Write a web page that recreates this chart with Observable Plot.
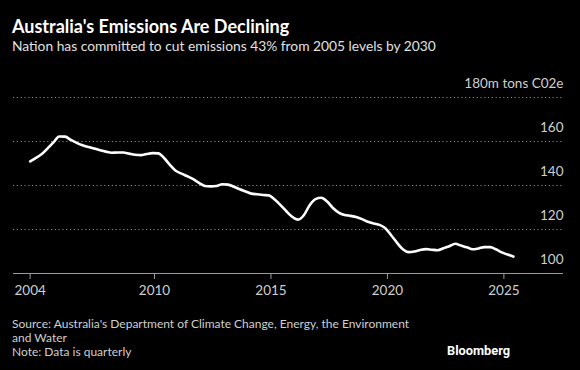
<!DOCTYPE html>
<html>
<head>
<meta charset="utf-8">
<script src="https://cdn.jsdelivr.net/npm/d3@7"></script>
<script src="https://cdn.jsdelivr.net/npm/@observablehq/plot@0.6"></script>
<style>
  html, body { margin: 0; padding: 0; background: #000; }
  #chart { position: relative; width: 580px; height: 370px; background: #000; overflow: hidden; font-family: "Lato", "Liberation Sans", sans-serif; }
  #title { position: absolute; left: 12px; top: 15px; color: #fff; font-weight: 700; font-size: 18px; white-space: nowrap; }
  #subtitle { position: absolute; left: 12px; top: 37px; color: #e0e0e0; font-size: 13.8px; white-space: nowrap; }
  #plot { position: absolute; left: 0; top: 60px; }
  #footer { position: absolute; left: 12px; top: 317px; color: #cfcfcf; font-size: 12px; line-height: 14px; }
  #brand { position: absolute; left: 447px; top: 343px; color: #fff; font-weight: 700; font-size: 12.8px; font-family: "Roboto", "Liberation Sans", sans-serif; }
</style>
</head>
<body>
<div id="chart">
  <div id="title">Australia's Emissions Are Declining</div>
  <div id="subtitle">Nation has committed to cut emissions 43% from 2005 levels by 2030</div>
  <div id="plot"></div>
  <div id="footer">Source: Australia's Department of Climate Change, Energy, the Environment<br>and Water<br>Note: Data is quarterly</div>
  <div id="brand">Bloomberg</div>
</div>
<script>
// Quarterly emissions, million tons CO2e (first point: Sept 2004 quarter)
const firstQuarterYear = 2004.66;
const emissions = [
  151.0, 152.6, 154.3, 156.9, 159.6, 162.3, 162.2, 160.7, 159.4, 158.3,
  157.5, 156.8, 156.0, 155.4, 154.9, 155.0, 155.0, 154.5, 154.0, 153.8,
  154.3, 154.7, 154.6, 152.5, 149.4, 146.7, 145.4, 144.2, 142.9, 141.2,
  139.8, 139.6, 139.8, 140.6, 140.4, 139.4, 138.3, 137.3, 136.3, 136.0,
  135.7, 135.5, 133.6, 131.1, 128.3, 125.8, 124.5, 126.5, 131.0, 133.8,
  134.4, 132.7, 129.8, 127.7, 126.6, 126.2, 125.7, 124.7, 123.5, 122.7,
  122.1, 120.6, 117.4, 114.0, 111.0, 109.7, 110.0, 110.7, 111.1, 110.8,
  110.6, 111.5, 112.4, 113.5, 112.7, 111.9, 111.0, 111.4, 112.0, 112.0,
  111.0, 109.6, 108.6, 107.7
];
const xTickYears = [2004, 2010, 2015, 2020, 2025];
const yTicks = [120, 140, 160, 180];
const yLabels = ["100", "120", "140", "160", "180m tons C02e"];
const yLabelValues = [100, 120, 140, 160, 180];

const data = emissions.map((v, i) => ({ t: firstQuarterYear + i * 0.25, v }));
const xTickPositions = xTickYears.map((y, i) => i === 0 ? firstQuarterYear : y);

const plot = Plot.plot({
  width: 580,
  height: 245,
  marginLeft: 13,
  marginRight: 17,
  marginTop: 37,
  marginBottom: 32,
  style: { background: "transparent", color: "#cfcfcf", fontFamily: "Lato, 'Liberation Sans', sans-serif", fontSize: "13px" },
  x: { type: "linear", domain: [2003.945, 2027.56] },
  y: { domain: [100, 180], axis: null },
  marks: [
    Plot.ruleY(yTicks, { stroke: "#8a8a8a", strokeDasharray: "1.2,2.6", strokeWidth: 1 }),
    Plot.ruleY([100], { stroke: "#9a9a9a", strokeWidth: 1 }),
    Plot.text(yLabelValues, {
      y: d => d, frameAnchor: "right", textAnchor: "end", dy: -14,
      text: (d, i) => yLabels[i], fill: "#cfcfcf", fontSize: 13.5
    }),
    Plot.axisX({
      ticks: xTickPositions,
      tickFormat: (d, i) => String(xTickYears[i]),
      tickSize: 6, tickPadding: 6, stroke: "#9a9a9a", fill: "#cfcfcf", fontSize: 13.5, label: null
    }),
    Plot.line(data, { x: "t", y: "v", stroke: "#ffffff", strokeWidth: 2.6, curve: "monotone-x" })
  ]
});
document.getElementById("plot").appendChild(plot);
</script>
</body>
</html>
